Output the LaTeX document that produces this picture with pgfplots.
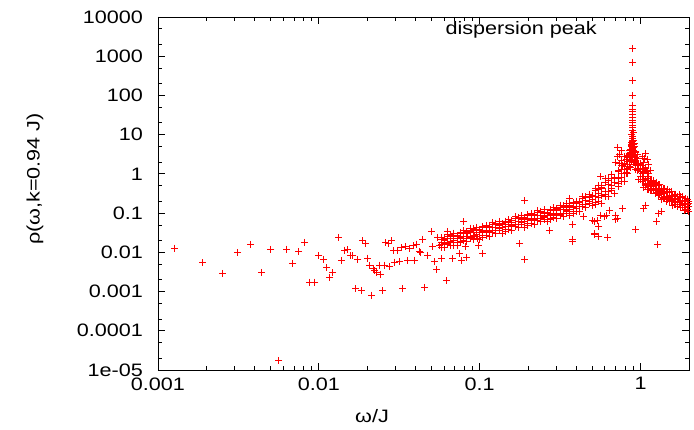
\documentclass[border=0pt]{standalone}
\usepackage{pgfplots}
\pgfplotsset{compat=1.18}
\usepackage{pgfplotstable}
\usepackage{fontspec}
\setmainfont{Liberation Sans}

\pgfplotstableread{
x y1 y2 y3 y4 y5
0.0575 0.0240 0.0134 0.0178 0.0210 0.0157
0.0603 0.0227 0.0129 0.0208 0.0170 0.0231
0.0631 0.0290 0.0164 0.0180 0.0256 0.0160
0.0661 0.0264 0.0152 0.0222 0.0179 0.0279
0.0692 0.0311 0.0178 0.0206 0.0249 0.0200
0.0724 0.0269 0.0152 0.0262 0.0222 0.0253
0.0759 0.0321 0.0193 0.0240 0.0301 0.0173
0.0794 0.0351 0.0195 0.0260 0.0307 0.0229
0.0832 0.0328 0.0186 0.0300 0.0246 0.0333
0.0871 0.0415 0.0235 0.0257 0.0366 0.0229
0.0912 0.0375 0.0216 0.0315 0.0255 0.0396
0.0955 0.0441 0.0252 0.0293 0.0353 0.0284
0.1000 0.0380 0.0215 0.0365 0.0314 0.0356
0.1047 0.0450 0.0270 0.0336 0.0422 0.0242
0.1096 0.0490 0.0272 0.0363 0.0428 0.0319
0.1148 0.0457 0.0259 0.0419 0.0343 0.0465
0.1202 0.0580 0.0328 0.0360 0.0512 0.0320
0.1259 0.0525 0.0302 0.0441 0.0357 0.0554
0.1318 0.0616 0.0352 0.0409 0.0493 0.0396
0.1380 0.0530 0.0300 0.0510 0.0438 0.0498
0.1445 0.0628 0.0377 0.0469 0.0589 0.0338
0.1514 0.0683 0.0380 0.0506 0.0597 0.0445
0.1585 0.0636 0.0360 0.0583 0.0477 0.0647
0.1660 0.0812 0.0459 0.0504 0.0717 0.0448
0.1738 0.0740 0.0426 0.0622 0.0503 0.0781
0.1820 0.0876 0.0501 0.0582 0.0701 0.0563
0.1905 0.0761 0.0430 0.0730 0.0629 0.0715
0.1995 0.0910 0.0546 0.0679 0.0854 0.0490
0.2089 0.0990 0.0550 0.0733 0.0865 0.0645
0.2188 0.0920 0.0522 0.0844 0.0690 0.0936
0.2291 0.116 0.0658 0.0723 0.1028 0.0642
0.2399 0.105 0.0606 0.0883 0.0715 0.111
0.2512 0.123 0.0704 0.0818 0.0986 0.0792
0.2630 0.106 0.0598 0.101 0.0874 0.0994
0.2754 0.125 0.0750 0.0933 0.117 0.0673
0.2884 0.136 0.0755 0.1006 0.119 0.0885
0.3020 0.126 0.0715 0.116 0.0947 0.128
0.3162 0.160 0.0902 0.099 0.141 0.088
0.3311 0.146 0.0842 0.123 0.0995 0.154
0.3467 0.174 0.0996 0.116 0.139 0.112
0.3631 0.152 0.0861 0.145 0.126 0.143
0.3802 0.183 0.110 0.137 0.172 0.0987
0.3981 0.203 0.113 0.150 0.177 0.132
0.4169 0.198 0.112 0.182 0.149 0.201
0.4365 0.262 0.148 0.163 0.232 0.145
0.4571 0.249 0.143 0.209 0.169 0.263
0.4786 0.306 0.175 0.203 0.245 0.197
0.5012 0.276 0.156 0.265 0.228 0.259
0.5248 0.423 0.191 0.259 0.382 0.164
0.5495 0.496 0.192 0.310 0.403 0.248
0.5754 0.463 0.178 0.427 0.285 0.516
0.6026 0.743 0.297 0.351 0.620 0.268
0.6310 0.696 0.269 0.528 0.360 0.768
0.6607 0.959 0.372 0.508 0.761 0.423
0.6918 0.830 0.319 0.780 0.598 0.764
0.7244 1.246 0.563 0.764 1.126 0.482
0.7586 1.62 0.627 1.012 1.316 0.810
0.7943 1.69 0.650 1.56 1.04 1.885
0.8128 2.78 1.11 1.31 2.32 1.00
0.8318 2.66 1.03 2.02 1.376 2.93
0.8511 3.89 1.51 2.06 3.09 1.72
0.8710 3.85 1.48 3.40 2.77 3.54
0.8810 5.77 2.60 3.53 5.21 2.23
0.8913 7.20 2.79 4.50 5.85 3.60
0.9016 4.98 1.92 4.60 3.06 5.55
0.9120 5.85 2.34 2.76 4.88 2.11
0.9333 3.41 1.32 2.59 1.76 3.76
0.9550 3.08 1.19 1.63 2.44 1.36
0.9772 1.84 0.706 1.70 1.32 1.69
1.0000 1.86 0.840 1.14 1.68 0.72
1.0233 1.67 0.648 1.045 1.36 0.836
1.0471 1.18 0.456 1.09 0.729 1.32
1.0715 1.44 0.575 0.678 1.20 0.519
1.0965 1.02 0.394 0.773 0.527 1.125
1.1220 1.05 0.409 0.558 0.837 0.465
1.1482 0.659 0.372 0.620 0.544 0.619
1.1749 0.690 0.414 0.515 0.648 0.372
1.2023 0.663 0.368 0.491 0.579 0.432
1.2303 0.545 0.309 0.499 0.409 0.554
1.2589 0.609 0.344 0.378 0.538 0.336
1.2882 0.494 0.284 0.415 0.336 0.521
1.3183 0.521 0.298 0.346 0.417 0.335
1.3490 0.402 0.228 0.385 0.333 0.378
1.3804 0.428 0.257 0.319 0.401 0.230
1.4125 0.419 0.233 0.310 0.366 0.273
1.4454 0.355 0.201 0.326 0.266 0.361
1.4791 0.409 0.231 0.254 0.361 0.226
1.5136 0.336 0.194 0.282 0.229 0.355
1.5488 0.360 0.206 0.239 0.288 0.231
1.5849 0.282 0.159 0.270 0.233 0.265
1.6218 0.306 0.183 0.228 0.287 0.165
1.6596 0.304 0.169 0.225 0.266 0.198
1.6982 0.259 0.147 0.238 0.194 0.264
1.7378 0.300 0.170 0.186 0.265 0.166
1.7783 0.248 0.143 0.208 0.168 0.261
1.8197 0.267 0.152 0.177 0.213 0.171
1.8621 0.210 0.119 0.200 0.174 0.198
1.9055 0.229 0.137 0.171 0.215 0.123
1.9498 0.228 0.127 0.169 0.199 0.149
1.9953 0.196 0.111 0.179 0.147 0.199
}\bandtab

\pgfplotstableread{
x y
0.00126 0.0128
0.00188 0.0055
0.0025 0.0029
0.00313 0.0097
0.00377 0.016
0.00437 0.0031
0.00504 0.0119
0.00565 0.000017
0.00627 0.012
0.0069 0.0052
0.0075 0.0104
0.00815 0.018
0.00875 0.00174
0.00944 0.00174
0.0100 0.0083
0.0107 0.0066
0.0112 0.0041
0.0117 0.0023
0.0122 0.0030
0.0132 0.024
0.0138 0.0062
0.0145 0.0113
0.0150 0.0118
0.0158 0.0085
0.0163 0.0082
0.0168 0.00117
0.0175 0.0066
0.0183 0.00107
0.0188 0.0195
0.0195 0.0164
0.0200 0.0071
0.0207 0.0047
0.0213 0.00081
0.0218 0.0038
0.0222 0.0034
0.0229 0.0030
0.0239 0.0047
0.0242 0.0028
0.0250 0.00105
0.0256 0.0047
0.0260 0.0177
0.0270 0.0170
0.0275 0.0044
0.0282 0.0200
0.0292 0.0109
0.0296 0.0056
0.0310 0.0112
0.0317 0.0058
0.0327 0.0130
0.0331 0.00117
0.0347 0.0137
0.0355 0.0062
0.0365 0.0127
0.0389 0.0146
0.0394 0.0063
0.0403 0.0161
0.0420 0.0103
0.0430 0.0097
0.0443 0.0213
0.0451 0.00127
0.0476 0.0085
0.0500 0.0333
0.0510 0.0138
0.0520 0.0057
0.0535 0.0036
0.0548 0.024
0.0563 0.0152
0.0577 0.0069
0.0606 0.0205
0.0618 0.00187
0.0630 0.0333
0.0660 0.0185
0.0678 0.0069
0.0690 0.0152
0.0750 0.0094
0.0770 0.0063
0.0798 0.060
0.0812 0.0138
0.0825 0.0074
0.0845 0.030
0.0880 0.0333
0.0930 0.0275
0.0970 0.0225
0.0976 0.0153
0.104 0.0093
0.177 0.0164
0.190 0.0066
0.190 0.206
0.270 0.0355
0.360 0.237
0.375 0.0517
0.375 0.0212
0.375 0.0187
0.440 0.0805
0.504 0.063
0.520 0.060
0.520 0.030
0.540 0.063
0.550 0.046
0.520 0.028
0.550 0.026
0.565 0.089
0.565 0.84
0.600 0.081
0.610 0.089
0.620 0.024
0.640 0.12
0.700 0.089
0.700 0.0675
0.720 0.074
0.770 0.13
0.930 0.038
1.050 0.13
1.080 0.16
1.250 0.060
1.280 0.016
1.300 0.100
1.340 0.107
0.720 4.6
0.760 3.9
0.720 2.7
0.760 2.25
0.790 2.7
0.735 1.86
0.770 1.6
0.700 2.0
0.740 3.2
1.070 3.3
1.030 2.7
1.100 2.3
1.050 1.9
1.120 1.7
1.080 1.4
1.150 1.2
1.060 2.4
0.893 1590
0.893 700
0.893 237
0.889 97
0.893 57
0.892 45
0.894 38
0.890 32
0.895 27
0.888 23
0.893 20
0.897 17
0.886 15
0.891 13
0.899 11.5
0.884 10
0.894 9
0.888 8
0.901 7
0.881 6.2
0.896 5.5
0.878 5
0.905 4.8
0.886 6.8
0.892 3.6
0.874 3.3
0.908 3.9
0.889 2.9
0.870 4.2
0.912 3.0
0.866 2.6
0.918 2.2
}\outtab

\pgfdeclareplotmark{rplus}{%
  \pgfsetstrokecolor{red}%
  \pgfsetlinewidth{1pt}%
  \pgfpathmoveto{\pgfqpoint{\pgfplotmarksize}{0pt}}%
  \pgfpathlineto{\pgfqpoint{-\pgfplotmarksize}{0pt}}%
  \pgfpathmoveto{\pgfqpoint{0pt}{\pgfplotmarksize}}%
  \pgfpathlineto{\pgfqpoint{0pt}{-\pgfplotmarksize}}%
  \pgfusepathqstroke}

\pgfplotsset{mp/.style={only marks, mark=rplus, mark size=3.5pt, line width=1pt, color=red, mark options={solid, draw=red}}}

\begin{document}
\color{red}%
\begin{tikzpicture}
\useasboundingbox (-158pt,-60pt) rectangle (536pt,370pt);
\begin{axis}[
  at={(0,0)}, anchor=south west,
  scale only axis, width=531pt, height=353pt,
  xmode=log, ymode=log,
  xmin=0.001, xmax=2, ymin=1e-5, ymax=1e4,
  xtick={0.001,0.01,0.1,1},
  xticklabels={0.001,0.01,0.1,1},
  ytick={1e-5,1e-4,1e-3,1e-2,1e-1,1,10,100,1000,10000},
  yticklabels={1e-05,0.0001,0.001,0.01,0.1,1,10,100,1000,10000},
  minor ytick={2e-5,5e-5,2e-4,5e-4,2e-3,5e-3,0.02,0.05,0.2,0.5,2,5,20,50,200,500,2000,5000},
  /pgf/number format/assume math mode=true,
  font=\fontsize{18}{22}\selectfont,
  major tick length=7pt, minor tick length=4pt,
  axis line style={line width=0.8pt, black},
  every tick/.style={black, line width=0.8pt},
  xticklabel style={xscale=1.2, yshift=-4pt, text=black},
  yticklabel style={xscale=1.2, xshift=-9pt, text=black},
  xlabel={ω/J},
  ylabel={ρ(ω,k=0.94 J)},
  xlabel style={at={(axis description cs:0.403,-0.130)}, anchor=center, xscale=1.2, text=black},
  ylabel style={at={(axis description cs:-0.2316,0.541)}, anchor=center, xscale=1.2, text=black},
]
\addplot[mp] table[x=x,y=y1]{\bandtab};
\addplot[mp] table[x=x,y=y2]{\bandtab};
\addplot[mp] table[x=x,y=y3]{\bandtab};
\addplot[mp] table[x=x,y=y4]{\bandtab};
\addplot[mp] table[x=x,y=y5]{\bandtab};
\addplot[mp] table[x=x,y=y]{\outtab};
\node[anchor=base, xscale=1.2, text=black] at (axis description cs:0.684,0.949) {dispersion peak};
\end{axis}
\end{tikzpicture}
\end{document}
